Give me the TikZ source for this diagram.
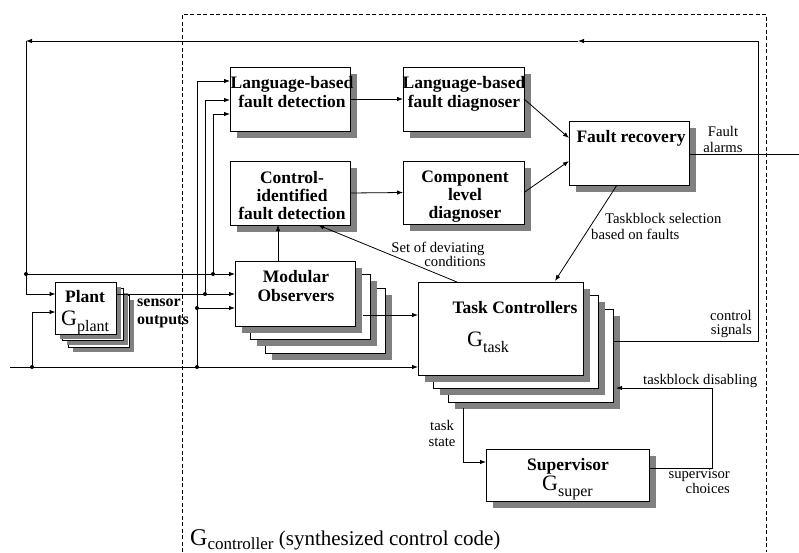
\documentclass[tikz,border=0pt]{standalone}
\usepackage{fontspec}
\setmainfont{Liberation Serif}
\usetikzlibrary{arrows.meta,shadows}
\newcommand\Gsym[4]{{\fontsize{#1}{#1}\selectfont\raisebox{0pt}[0.68em][0pt]{G}}\raisebox{#4}{\fontsize{#2}{#2}\selectfont #3}}
\begin{document}
\begin{tikzpicture}[x=1pt,y=-1pt,
  boxbase/.style={draw, fill=white, line width=0.8pt, inner sep=0pt, outer sep=0pt, anchor=north west},
  box/.style={boxbase, drop shadow={shadow xshift=7pt, shadow yshift=-6.5pt, fill=black!50, opacity=1}},
  pbox/.style={boxbase, minimum width=61pt, minimum height=52pt, drop shadow={shadow xshift=4.5pt, shadow yshift=-4.5pt, fill=black!50, opacity=1}},
  mbox/.style={box, minimum width=120pt, minimum height=65pt},
  tbox/.style={box, minimum width=165pt, minimum height=93pt},
  bl/.style={font=\fontsize{17.5}{19}\selectfont\bfseries, inner sep=0pt, anchor=base},
  lb/.style={font=\fontsize{14.7}{16}\selectfont, inner sep=0pt, anchor=base},
  wire/.style={line width=0.8pt},
  arr/.style={wire, -{Latex[length=6pt,width=4.5pt]}},
  dot/.style={circle, fill, inner sep=0pt, minimum size=4pt},
  gl/.style={inner sep=0pt, anchor=base west}]
\useasboundingbox (0,0) rectangle (799,552);

% dashed controller frame
\draw[line width=1pt, dash pattern=on 4pt off 2.5pt] (182,552) -- (182,14) -- (766,14) -- (766,552);

% plant stack
\node[pbox] (p3) at (68.5,295) {};
\node[pbox] (p2) at (62,288.5) {};
\node[pbox] (p1) at (55.5,282) {};

% modular observers stack
\node[mbox] (mo3) at (265,288) {};
\node[mbox] (mo2) at (250,274.5) {};
\node[mbox] (mo1) at (235,261) {};

% task controllers stack
\node[tbox] (tc3) at (448,309) {};
\node[tbox] (tc2) at (433,295.5) {};
\node[tbox] (tc1) at (418,282) {};

% single boxes
\node[box, minimum width=120pt, minimum height=64pt] (lbfd) at (230,67) {};
\node[box, minimum width=121pt, minimum height=64pt] (lbfdiag) at (403,67) {};
\node[box, minimum width=120pt, minimum height=64pt] (cifd) at (230,161) {};
\node[box, minimum width=121pt, minimum height=63pt] (cld) at (403,161) {};
\node[box, minimum width=120pt, minimum height=64pt] (fr) at (569,121) {};
\node[box, minimum width=163pt, minimum height=52pt] (sup) at (486,449) {};

% box texts
\node[bl] (t1) at (292,88) {Language-based};
\node[bl] (t2) at (292,107) {fault detection};
\node[bl] (t3) at (464,88) {Language-based};
\node[bl] (t4) at (464,107) {fault diagnoser};
\node[bl] (t5) at (292,183) {Control-};
\node[bl] (t6) at (292,201) {identified};
\node[bl] (t7) at (292,219) {fault detection};
\node[bl] (t8) at (465,182) {Component};
\node[bl] (t9) at (465,200) {level};
\node[bl] (t10) at (465,218) {diagnoser};
\node[bl] (t11) at (631,142) {Fault recovery};
\node[bl] (t12) at (296,282) {Modular};
\node[bl] (t13) at (296,301) {Observers};
\node[bl] (t14) at (85,302) {Plant};
\node[bl] (t15) at (515,313) {Task Controllers};
\node[bl] (t16) at (568,470) {Supervisor};
\node[bl, anchor=base west, font=\fontsize{16}{18}\selectfont\bfseries] (so1) at (137,306) {sensor};
\node[bl, anchor=base west, font=\fontsize{16}{18}\selectfont\bfseries] (so2) at (137,324) {outputs};

\node[gl] (gp) at (61,325) {\Gsym{22}{16}{plant}{-6.5pt}};
\node[gl] (gt) at (467,346) {\Gsym{22}{16}{task}{-6pt}};
\node[gl] (gs) at (542,490) {\Gsym{22}{16}{super}{-6pt}};
\node[gl] (gc) at (190,545) {\Gsym{24}{17}{controller}{-4pt}\fontsize{21}{21}\selectfont\ (synthesized control code)};

% connector labels
\node[lb] (fa1) at (723,136) {Fault};
\node[lb] (fa2) at (723,152) {alarms};
\node[lb, anchor=base west] (ts1) at (605,223) {Taskblock selection};
\node[lb, anchor=base west] (ts2) at (591,239) {based on faults};
\node[lb] (sd1) at (438,252) {Set of deviating};
\node[lb] (sd2) at (455,266) {conditions};
\node[lb, anchor=base east] (cs1) at (752,320) {control};
\node[lb, anchor=base east] (cs2) at (752,334) {signals};
\node[lb, anchor=base west] (td) at (643,384) {taskblock disabling};
\node[lb] (st1) at (442,430) {task};
\node[lb] (st2) at (442,446) {state};
\node[lb, anchor=base east] (sc1) at (730,478) {supervisor};
\node[lb, anchor=base east] (sc2) at (730,493) {choices};

% coordinates
\coordinate (fbR) at (758,41);
\coordinate (fbM) at (578,41);
\coordinate (fbL) at (26,41);
\coordinate (yCS) at (0,341);
\coordinate (yP1) at (0,294);
\coordinate (yP2) at (0,312);
\coordinate (y81) at (0,81);
\coordinate (y100) at (0,100);
\coordinate (y114) at (0,114);
\coordinate (bL) at (10,367);
\coordinate (moOut) at (363,315);
\coordinate (frIn1) at (0,138);
\coordinate (frIn2) at (0,161);
\coordinate (faEnd) at (799,154);
\coordinate (x278) at (278,0);
\coordinate (x617) at (617,0);
\coordinate (trTip) at (555,281);
\coordinate (x457) at (457,0);
\coordinate (x318) at (318,0);
\coordinate (tsTop) at (463,408);
\coordinate (tsBot) at (463,462);
\coordinate (scR) at (712,468);
\coordinate (scT) at (712,388);
\coordinate (tdTip) at (616,388);

% dots
\node[dot] (d1) at (26,274) {};
\node[dot] (d2) at (213,274) {};
\node[dot] (d3) at (205,294) {};
\node[dot] (d4) at (32,367) {};
\node[dot] (d5) at (197,367) {};
\node[dot] (d6) at (197,308) {};

% feedback from task controllers to plant
\draw[wire] (tc3.east |- yCS) -- (fbR |- yCS) -- (fbR);
\draw[arr] (fbR) -- (fbM);
\draw[arr] (fbM) -- (fbL);
\draw[arr] (fbL) -- (fbL |- yP1) -- (p1.west |- yP1);
\draw[arr] (d1.center) -- (mo1.west |- d1);
\draw[arr] (d2.center) -- (d2 |- y114) -- (lbfd.west |- y114);

% plant outputs
\draw[arr] (p1.east |- yP1) -- (mo1.west |- yP1);
\draw[arr] (d3.center) -- (d3 |- y100) -- (lbfd.west |- y100);

% bottom input line
\draw[arr] (bL) -- (tc1.west |- bL);
\draw[arr] (d4.center) -- (d4 |- yP2) -- (p1.west |- yP2);
\draw[arr] (d5.center) -- (d5 |- y81) -- (lbfd.west |- y81);
\draw[arr] (d6.center) -- (mo1.west |- d6);

% observers
\draw[arr] (moOut) -- (tc1.west |- moOut);
\draw[arr] (mo1.north -| x278) -- (cifd.south -| x278);

% detection / diagnosis
\draw[arr] (lbfd.east) -- (lbfdiag.west);
\draw[arr] (cifd.east) -- (cld.west);
\draw[arr] (lbfdiag.east) -- (fr.west |- frIn1);
\draw[arr] (cld.east) -- (fr.west |- frIn2);
\draw[wire] (fr.east |- faEnd) -- (faEnd);
\draw[arr] (fr.south -| x617) -- (trTip);
\draw[arr] (tc1.north -| x457) -- (cifd.south -| x318);

% supervisor loop
\draw[arr] (tsTop) -- (tsBot) -- (sup.west |- tsBot);
\draw[arr] (sup.east |- scR) -- (scR) -- (scT) -- (tdTip);
\end{tikzpicture}
\end{document}
